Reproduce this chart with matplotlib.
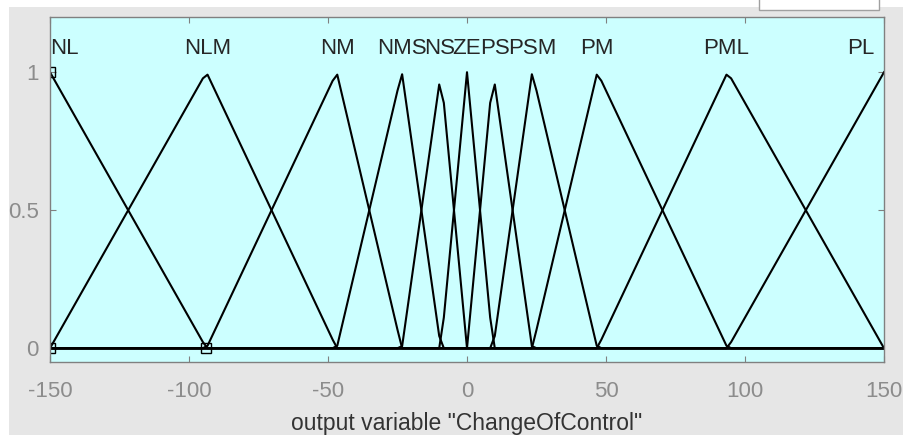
import numpy as np
import matplotlib
matplotlib.use("Agg")
import matplotlib.pyplot as plt
from matplotlib.patches import Rectangle

# membership functions of the output variable (trimf parameters)
mf_names = ["NL", "NLM", "NM", "NMS", "NS", "ZE", "PS", "PSM", "PM", "PML", "PL"]
mf_params = [
    [-150, -150, -93.75],
    [-150, -93.75, -46.875],
    [-93.75, -46.875, -23.4375],
    [-46.875, -23.4375, -9.375],
    [-23.4375, -9.375, 0],
    [-9.375, 0, 9.375],
    [0, 9.375, 23.4375],
    [9.375, 23.4375, 46.875],
    [23.4375, 46.875, 93.75],
    [46.875, 93.75, 150],
    [93.75, 150, 150],
]
selected = 0  # NL is the highlighted MF
x_range = [-150, 150]
x_ticks = [-150, -100, -50, 0, 50, 100, 150]
y_ticks = [0, 0.5, 1]
y_ticklabels = ["0", "0.5", "1"]
n_points = 181


def trimf(x, p):
    a, b, c = p
    y = np.zeros_like(x)
    if b > a:
        m = (x >= a) & (x <= b)
        y[m] = (x[m] - a) / (b - a)
    if c > b:
        m = (x >= b) & (x <= c)
        y[m] = (c - x[m]) / (c - b)
    y[x == b] = 1.0
    return y


def main():
    fig = plt.figure(figsize=(9.04, 4.36), dpi=100, facecolor="white")
    # grey GUI panel behind the axes
    fig.patches.append(Rectangle((9 / 904, 1 / 436), 895 / 904, 428 / 436,
                                 transform=fig.transFigure, facecolor="#e6e6e6",
                                 edgecolor="none", zorder=-10))
    # small white box of the GUI at the top right
    fig.patches.append(Rectangle((759 / 904, 426 / 436), 120 / 904, 12 / 436,
                                 transform=fig.transFigure, facecolor="white",
                                 edgecolor="#a0a0a0", linewidth=1.0, zorder=-9))

    ax = fig.add_axes([50 / 904, 74 / 436, 834 / 904, 345 / 436])
    ax.set_facecolor("#ccffff")

    x = np.linspace(x_range[0], x_range[1], n_points)
    for name, p in zip(mf_names, mf_params):
        y = trimf(x, p)
        ax.plot(x, y, color="black", linewidth=1.5, solid_joinstyle="round")
        peak = x[np.argmax(y)]
        ha = "center"
        if peak <= x_range[0]:
            ha, peak = "left", x_range[0]
        elif peak >= x_range[1]:
            ha, peak = "right", x_range[1] - 3.5
        ax.text(peak, 1.085, name, ha=ha, va="center", fontsize=16,
                color="#262626", family="Liberation Sans")

    # vertex markers of the selected MF
    a, b, c = mf_params[selected]
    ax.plot([a, b, c], [0, 1, 0], linestyle="none", marker="s", markersize=7,
            markerfacecolor="none", markeredgecolor="black", markeredgewidth=1.0)

    ax.set_xlim(x_range)
    ax.set_ylim(-0.05, 1.2)
    ax.set_xticks(x_ticks)
    ax.set_xticklabels([str(t) for t in x_ticks])
    ax.set_yticks(y_ticks)
    ax.set_yticklabels(y_ticklabels)
    ax.tick_params(direction="in", length=4, width=0.8, color="#808080",
                   labelcolor="#8c8c8c", labelsize=16, top=True, right=True)
    ax.tick_params(axis="x", pad=14)
    ax.tick_params(axis="y", pad=8)
    for lab in ax.get_xticklabels() + ax.get_yticklabels():
        lab.set_family("Liberation Sans")
    for s in ax.spines.values():
        s.set_color("#808080")
        s.set_linewidth(1.0)

    ax.set_xlabel('output variable "ChangeOfControl"', fontsize=16.5,
                  color="#333333", family="Liberation Sans")
    ax.xaxis.label.set_va("center")
    ax.xaxis.set_label_coords(0.5, -0.177)

    fig.savefig("out.png", dpi=100, facecolor=fig.get_facecolor())


if __name__ == "__main__":
    main()
